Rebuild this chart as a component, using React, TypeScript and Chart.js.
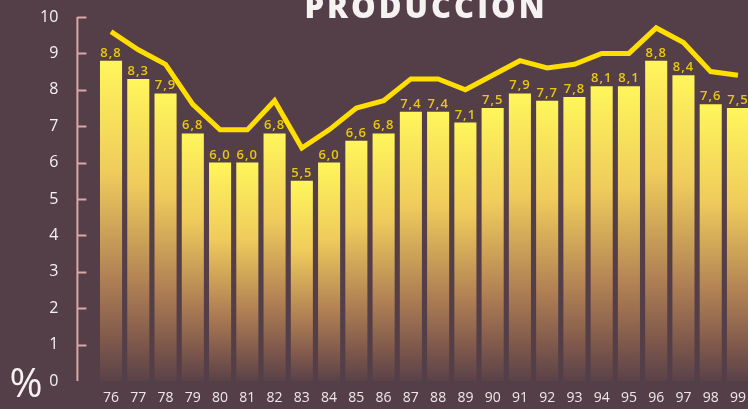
import React, { useEffect, useRef } from "react";
import { Chart, registerables } from "chart.js";

Chart.register(...registerables);

const years = ["76","77","78","79","80","81","82","83","84","85","86","87","88","89","90","91","92","93","94","95","96","97","98","99"];
const barValues = [8.8, 8.3, 7.9, 6.8, 6.0, 6.0, 6.8, 5.5, 6.0, 6.6, 6.8, 7.4, 7.4, 7.1, 7.5, 7.9, 7.7, 7.8, 8.1, 8.1, 8.8, 8.4, 7.6, 7.5];
const lineValues = [9.6, 9.1, 8.7, 7.6, 6.9, 6.9, 7.7, 6.4, 6.9, 7.5, 7.7, 8.3, 8.3, 8.0, 8.4, 8.8, 8.6, 8.7, 9.0, 9.0, 9.7, 9.3, 8.5, 8.4];
const yTicks = [0, 1, 2, 3, 4, 5, 6, 7, 8, 9, 10];
const title = "PRODUCCIÓN";
const unit = "%";

const BG = "#543f49";
const FONT = "'Open Sans', 'DejaVu Sans', sans-serif";

const decorPlugin = {
  id: "decor",
  beforeDatasetsDraw(chart: any) {
    const ctx = chart.ctx;
    const y = chart.scales.y;
    const ax = chart.chartArea.left - 20;
    ctx.save();
    ctx.strokeStyle = "#d9a8a4";
    ctx.lineWidth = 2;
    ctx.beginPath();
    ctx.moveTo(ax, y.getPixelForValue(10));
    ctx.lineTo(ax, y.getPixelForValue(0));
    ctx.stroke();
    yTicks.forEach((t) => {
      if (t === 0) return;
      const py = Math.round(y.getPixelForValue(t)) + 0.5;
      ctx.beginPath();
      ctx.moveTo(ax, py);
      ctx.lineTo(ax + 9, py);
      ctx.stroke();
    });
    ctx.restore();
  },
  afterDatasetDraw(chart: any, args: any) {
    if (args.index !== 1) return;
    const ctx = chart.ctx;
    const meta = chart.getDatasetMeta(1);
    ctx.save();
    ctx.fillStyle = "#e8c612";
    ctx.font = `600 13px ${FONT}`;
    ctx.textAlign = "center";
    ctx.textBaseline = "alphabetic";
    (ctx as any).letterSpacing = "1px";
    meta.data.forEach((el: any, i: number) => {
      const txt = barValues[i].toFixed(1).replace(".", ",");
      ctx.fillText(txt, el.x, el.y - 4);
    });
    ctx.restore();
  },
  afterDraw(chart: any) {
    const ctx = chart.ctx;
    ctx.save();
    ctx.fillStyle = "#f7f2f2";
    ctx.font = `800 31px ${FONT}`;
    ctx.textAlign = "center";
    ctx.textBaseline = "alphabetic";
    (ctx as any).letterSpacing = "3px";
    ctx.fillText(title, 426, 18);
    (ctx as any).letterSpacing = "0px";
    ctx.font = `40px ${FONT}`;
    ctx.fillText(unit, 26, 397);
    ctx.restore();
  },
};

export default function App() {
  const ref = useRef<HTMLCanvasElement>(null);
  useEffect(() => {
    document.documentElement.style.overflow = "hidden";
    document.body.style.overflow = "hidden";
    document.body.style.background = BG;
    const chart = new Chart(ref.current as HTMLCanvasElement, {
      type: "bar",
      data: {
        labels: years,
        datasets: [
          {
            type: "line",
            data: lineValues,
            borderColor: "#ffde00",
            borderWidth: 5,
            pointRadius: 0,
            tension: 0,
            fill: false,
            order: 0,
          } as any,
          {
            type: "bar",
            data: barValues,
            order: 1,
            barPercentage: 0.81,
            categoryPercentage: 1,
            borderWidth: 0,
            backgroundColor: (c: any) => {
              const ch = c.chart;
              const area = ch.chartArea;
              if (!area || c.parsed === undefined) return "#f5d850";
              const top = ch.scales.y.getPixelForValue(c.parsed.y);
              const bottom = ch.scales.y.getPixelForValue(0);
              const g = ch.ctx.createLinearGradient(0, top, 0, bottom);
              g.addColorStop(0, "#fff65b");
              g.addColorStop(0.35, "#efcb5c");
              g.addColorStop(0.68, "#b08054");
              g.addColorStop(0.88, "#7d574b");
              g.addColorStop(1, "#5a4249");
              return g;
            },
          },
        ],
      },
      options: {
        animation: false,
        responsive: false,
        layout: { padding: { left: 0, right: 8.4, top: 17, bottom: 0 } },
        plugins: { legend: { display: false }, tooltip: { enabled: false }, title: { display: false } },
        scales: {
          x: {
            grid: { display: false },
            border: { display: false },
            ticks: {
              color: "#f0e8e8",
              font: { family: FONT, size: 14 },
              padding: 1,
              autoSkip: false,
              maxRotation: 0,
            },
            afterFit: (s: any) => {
              s.height = 28;
              s.paddingLeft = 0;
              s.paddingRight = 0;
              s.paddingTop = 0;
              s.paddingBottom = 0;
            },
          },
          y: {
            min: 0,
            max: 10,
            grid: { display: false },
            border: { display: false },
            ticks: {
              stepSize: 1,
              color: "#f7f2f2",
              font: { family: FONT, size: 16 },
              padding: 31,
            },
            afterFit: (s: any) => {
              s.width = 97.4;
              s.paddingTop = 0;
              s.paddingBottom = 0;
              s.paddingLeft = 0;
              s.paddingRight = 0;
            },
          },
        },
      },
      plugins: [decorPlugin],
    });
    return () => chart.destroy();
  }, []);
  return (
    <div style={{ position: "fixed", left: 0, top: 0, width: 760, height: 409, background: BG }}>
      <canvas ref={ref} width={760} height={409} />
    </div>
  );
}
